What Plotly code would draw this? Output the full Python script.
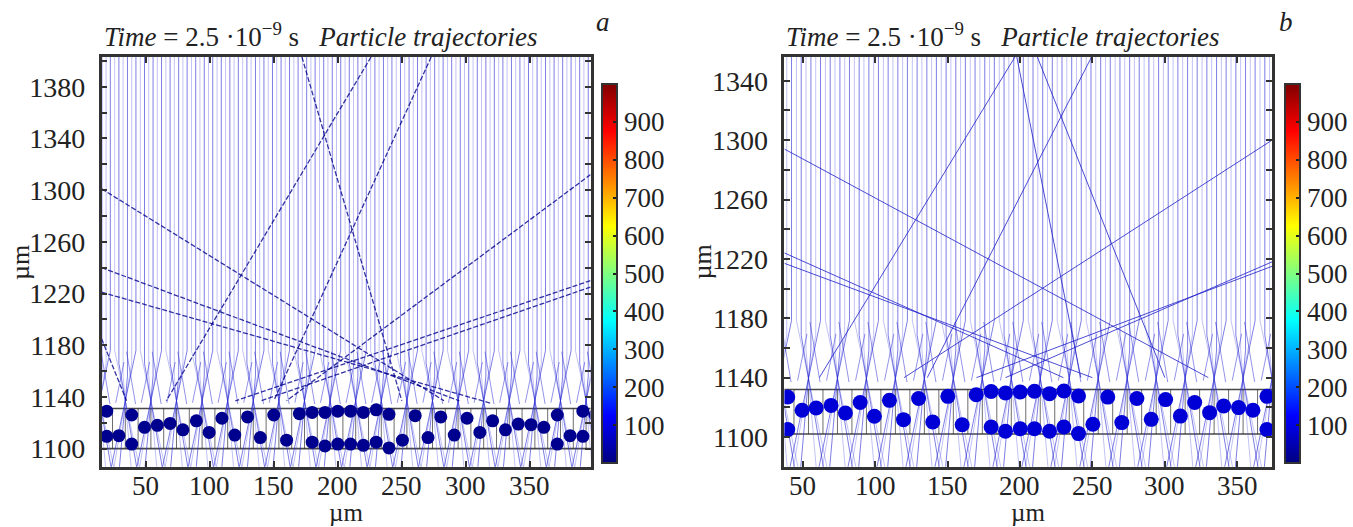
import plotly.graph_objects as go

FONT = "Liberation Serif"
W, H = 1353, 527

# ---------------- data (µm) ----------------
A_XRANGE = [15.5, 397.5]
A_YRANGE = [1086.0, 1403.0]
B_XRANGE = [37.4, 374.0]
B_YRANGE = [1080.0, 1356.0]

X_TICKS = [50, 100, 150, 200, 250, 300, 350]
A_Y_TICKS = [1100, 1140, 1180, 1220, 1260, 1300, 1340, 1380]
B_Y_TICKS = [1100, 1140, 1180, 1220, 1260, 1300, 1340]
CB_TICKS = [100, 200, 300, 400, 500, 600, 700, 800, 900]

# focal points of the incoming trajectory bundles
FOCI_X = [-6, 14, 34, 54, 74, 94, 114, 134, 154, 174, 194, 214, 234, 254,
          274, 294, 314, 334, 354, 374, 394, 414]
A_FOCUS_Y = 1137.0
B_FOCUS_Y = 1139.5
# lateral offsets of the trajectories feeding each focus
BUNDLE_OFFSETS = [-8.3, -5.0, -1.7, 1.7, 5.0, 8.3]

# trapping layer (band) limits
A_BAND = [1100.0, 1131.0]
B_BAND = [1102.0, 1132.0]
BAND_GRID_X = [4, 14, 24, 34, 44, 54, 64, 74, 84, 94, 104, 114, 124, 134,
               144, 154, 164, 174, 184, 194, 204, 214, 224, 234, 244, 254,
               264, 274, 284, 294, 304, 314, 324, 334, 344, 354, 364, 374,
               384, 394]

# particle positions
A_PX = [19.5, 19.5, 29, 39, 39, 49, 59, 69, 79, 89.5, 99.5, 109.5, 119.5,
        129.5, 139.5, 150, 160, 170, 180, 180, 190, 190, 200, 200, 210, 210,
        220, 220, 230, 230, 240, 240, 250.5, 260.5, 270.5, 280.5, 291, 301,
        311, 321, 331, 341, 351, 361, 371.5, 371.5, 381.5, 391.5, 391.5, 401]
A_PY = [1129, 1109.5, 1110, 1126, 1103.5, 1116.5, 1118, 1119.5, 1114.5,
        1121.5, 1112.5, 1123.5, 1110.5, 1124.5, 1108.5, 1126, 1106.5, 1127,
        1128, 1105, 1128, 1102, 1129, 1103.5, 1129, 1103.5, 1128, 1102.5,
        1130, 1105, 1126.5, 1100.5, 1106.5, 1125.5, 1108.5, 1124.5, 1110.5,
        1123.5, 1112.5, 1121.5, 1114.5, 1119, 1118.5, 1116.5, 1126, 1103.5,
        1110, 1129, 1109.5, 1126]
B_PX = [39.7, 39.7, 49.6, 59.3, 69.6, 79.5, 89.7, 99.5, 109.9, 119.6, 130,
        139.8, 150.2, 160.1, 169.8, 180.1, 180.1, 190, 190, 200.2, 200.2,
        210, 210, 220.4, 220.4, 230.3, 230.3, 240.4, 240.4, 250.3, 260.6,
        270.3, 280.7, 290.6, 300.5, 310.7, 320.6, 330.9, 340.6, 350.9, 360.8,
        370.5, 370.5]
B_PY = [1127, 1105, 1118, 1119.5, 1121.3, 1116.2, 1123.2, 1114, 1124.7,
        1111.7, 1125.9, 1110.1, 1127.4, 1108.3, 1128.5, 1130.7, 1106.7,
        1129.6, 1103.9, 1130.3, 1105.6, 1130.8, 1105.6, 1129.2, 1103.9, 1131,
        1106.7, 1127.6, 1102.3, 1108.6, 1126.9, 1109.7, 1125.9, 1111.9,
        1125.2, 1114.1, 1123.2, 1116.4, 1120.9, 1119.8, 1118, 1127.4, 1105]
A_PARTICLE_VALUE = 15
B_PARTICLE_VALUE = 85

# long scattered trajectories: start -> end
A_LONG_X0 = [15.5, 15.5, 15.5, 15.5, 172, 226, 273, 397.5, 397.5, 397.5]
A_LONG_Y0 = [1301, 1240, 1221, 1185, 1403, 1403, 1403, 1312, 1230, 1225]
A_LONG_X1 = [283, 295, 320, 35, 250, 66, 150, 160, 120, 140]
A_LONG_Y1 = [1137, 1137, 1135, 1137, 1137, 1137, 1137, 1137, 1137, 1137]

B_LONG_X0 = [37.4, 37.4, 37.4, 196.5, 197.8, 212, 249.4, 374, 374, 374]
B_LONG_Y0 = [1294, 1224, 1217, 1356, 1356, 1356, 1356, 1300, 1218, 1215]
B_LONG_X1 = [330, 230, 250, 61.5, 242, 300, 136, 120, 190, 170]
B_LONG_Y1 = [1140, 1140, 1140, 1140, 1140, 1140, 1140, 1140, 1140, 1140]

# MATLAB-style jet
JET = [[0.0, "rgb(0,0,128)"], [0.125, "rgb(0,0,255)"], [0.375, "rgb(0,255,255)"],
       [0.625, "rgb(255,255,0)"], [0.875, "rgb(255,0,0)"], [1.0, "rgb(128,0,0)"]]


def bundle_paths(foci, yf, ytop, ybot):
    """Vertical trajectories that bend into each focus and cross below it."""
    light, dark = ([], []), ([], [])
    for xf in foci:
        for i, o in enumerate(BUNDLE_OFFSETS):
            yb = yf + 14 + 3 * abs(o)
            xbot = xf - o * (yf - ybot) / (yb - yf)
            tgt = dark if i % 2 else light
            tgt[0].extend([xf + o, xf + o, xf, xbot, None])
            tgt[1].extend([ytop, yb, yf, ybot, None])
    return light, dark


def stopper_paths(foci, yf):
    xs, ys = [], []
    for xf in foci:
        xs.extend([xf + 1.0, xf + 8.0, None, xf + 19.0, xf + 12.5, None])
        ys.extend([yf + 38, yf - 2.5, None, yf + 30, yf - 1.5, None])
    return xs, ys


def segs(x0, y0, x1, y1):
    xs, ys = [], []
    for a, b, c, d in zip(x0, y0, x1, y1):
        xs.extend([a, c, None])
        ys.extend([b, d, None])
    return xs, ys


def band_paths(xr, band):
    xs = [xr[0] - 5, xr[1] + 5, None, xr[0] - 5, xr[1] + 5, None]
    ys = [band[0], band[0], None, band[1], band[1], None]
    gx, gy = [], []
    for x in BAND_GRID_X:
        gx.extend([x, x, None])
        gy.extend([band[0], band[1], None])
    return (xs, ys), (gx, gy)


fig = go.Figure()


def add_panel(xa, ya, xr, yr, foci_y, band, px, py, pval, psize,
              lx0, ly0, lx1, ly1, long_style, cb_x):
    light, dark = bundle_paths(FOCI_X, foci_y, yr[1] + 5, yr[0] - 5)
    (hx, hy), (gx, gy) = band_paths(xr, band)
    fig.add_trace(go.Scatter(x=gx, y=gy, mode="lines", xaxis=xa, yaxis=ya,
                             line=dict(color="rgba(60,60,60,0.75)", width=1),
                             hoverinfo="skip", showlegend=False))
    fig.add_trace(go.Scatter(x=hx, y=hy, mode="lines", xaxis=xa, yaxis=ya,
                             line=dict(color="rgba(40,40,40,0.85)", width=1.6),
                             hoverinfo="skip", showlegend=False))
    fig.add_trace(go.Scatter(x=light[0], y=light[1], mode="lines", xaxis=xa, yaxis=ya,
                             line=dict(color="rgba(70,70,225,0.33)", width=1),
                             hoverinfo="skip", showlegend=False))
    fig.add_trace(go.Scatter(x=dark[0], y=dark[1], mode="lines", xaxis=xa, yaxis=ya,
                             line=dict(color="rgba(40,40,210,0.6)", width=1),
                             hoverinfo="skip", showlegend=False))
    sx, sy = stopper_paths(FOCI_X, foci_y)
    fig.add_trace(go.Scatter(x=sx, y=sy, mode="lines", xaxis=xa, yaxis=ya,
                             line=dict(color="rgba(40,40,210,0.5)", width=1),
                             hoverinfo="skip", showlegend=False))
    dx, dy = segs(lx0, ly0, lx1, ly1)
    fig.add_trace(go.Scatter(x=dx, y=dy, mode="lines", xaxis=xa, yaxis=ya,
                             line=long_style, hoverinfo="skip", showlegend=False))
    fig.add_trace(go.Scatter(
        x=px, y=py, mode="markers", xaxis=xa, yaxis=ya, showlegend=False,
        marker=dict(size=psize, color=[pval] * len(px), colorscale=JET,
                    cmin=0, cmax=1000, showscale=True, line=dict(width=0),
                    colorbar=dict(
                        thickness=15, thicknessmode="pixels",
                        len=379, lenmode="pixels",
                        x=cb_x / W, xanchor="left", xpad=0,
                        y=(H - 273.5) / H, yanchor="middle", ypad=0,
                        outlinewidth=2, outlinecolor="#333",
                        ticks="inside", ticklen=5, tickwidth=1.5, tickcolor="#222",
                        tickvals=CB_TICKS,
                        tickfont=dict(family=FONT, size=27, color="#222"))),
        hoverinfo="skip"))


add_panel("x", "y", A_XRANGE, A_YRANGE, A_FOCUS_Y, A_BAND, A_PX, A_PY,
          A_PARTICLE_VALUE, 13, A_LONG_X0, A_LONG_Y0, A_LONG_X1, A_LONG_Y1,
          dict(color="rgba(0,0,140,0.8)", width=1.3, dash="5px,2px"), 602)
add_panel("x2", "y2", B_XRANGE, B_YRANGE, B_FOCUS_Y, B_BAND, B_PX, B_PY,
          B_PARTICLE_VALUE, 15, B_LONG_X0, B_LONG_Y0, B_LONG_X1, B_LONG_Y1,
          dict(color="rgba(30,30,200,0.8)", width=1), 1285)

axis_common = dict(showline=True, linewidth=2.5, linecolor="#333", mirror="allticks",
                   ticks="inside", ticklen=6, tickwidth=1.5, tickcolor="#333",
                   showgrid=False, zeroline=False)
y_font = dict(family=FONT, size=28, color="#222")

y_dom = [(H - 466.7) / H, (H - 57) / H]
y_minor = dict(ticks="inside", dtick=20, tick0=1100, ticklen=6, tickwidth=1.5,
               tickcolor="#333", showgrid=False)

fig.update_layout(
    width=W, height=H, margin=dict(l=0, r=0, t=0, b=0),
    paper_bgcolor="white", plot_bgcolor="white",
    xaxis=dict(domain=[101.7 / W, 591 / W], range=A_XRANGE, tickvals=X_TICKS,
               anchor="y", showticklabels=False, **axis_common),
    yaxis=dict(domain=y_dom, range=A_YRANGE, tickvals=A_Y_TICKS, minor=y_minor,
               anchor="x", ticklabelstandoff=8, tickfont=y_font, **axis_common),
    xaxis2=dict(domain=[785 / W, 1273 / W], range=B_XRANGE, tickvals=X_TICKS,
                anchor="y2", showticklabels=False, **axis_common),
    yaxis2=dict(domain=y_dom, range=B_YRANGE, tickvals=B_Y_TICKS, minor=y_minor,
                anchor="x2", ticklabelstandoff=8, tickfont=y_font, **axis_common),
)

title_txt = ("<i>Time</i> = 2.5 ·10<sup>−9</sup> s\u00a0\u00a0\u00a0"
             "<i>Particle trajectories</i>")
ann = []
for xref, left, center, letter, ylab_x in [("x", 101.7, 346, "a", 20),
                                           ("x2", 785, 1029, "b", 703)]:
    # x tick labels, placed at the axis tick values
    for v in X_TICKS:
        ann.append(dict(text=str(v), x=v, xref=xref, y=(H - 486) / H, yref="paper",
                        xanchor="center", yanchor="middle", showarrow=False,
                        font=dict(family=FONT, size=27, color="#222")))
    ann.append(dict(text=title_txt, x=left / W, y=(H - 35) / H, xref="paper", yref="paper",
                    xanchor="left", yanchor="middle", showarrow=False,
                    font=dict(family=FONT, size=27, color="#222")))
    ann.append(dict(text=f"<i>{letter}</i>", x=(left + 502) / W,
                    y=(H - 22) / H, xref="paper", yref="paper", xanchor="center",
                    yanchor="middle", showarrow=False,
                    font=dict(family=FONT, size=27, color="#222")))
    ann.append(dict(text="µm", x=center / W, y=0, xref="paper", yref="paper",
                    xanchor="center", yanchor="bottom", yshift=-1, showarrow=False,
                    font=dict(family=FONT, size=25, color="#222")))
    ann.append(dict(text="µm", x=ylab_x / W, y=(H - 262) / H, xref="paper", yref="paper",
                    xanchor="center", yanchor="middle", showarrow=False, textangle=-90,
                    font=dict(family=FONT, size=26, color="#222")))
fig.update_layout(annotations=ann)

fig.write_html("out.html")
